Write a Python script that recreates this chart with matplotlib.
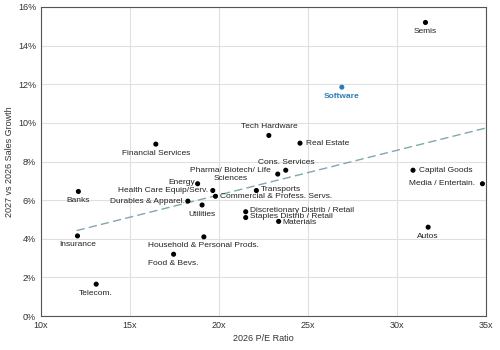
import numpy as np
import matplotlib.pyplot as plt
from matplotlib.ticker import FuncFormatter

plt.rcParams['font.family'] = ['Liberation Sans', 'DejaVu Sans']

sectors = ['Semis', 'Software', 'Tech Hardware', 'Real Estate', 'Cons. Services',
           'Pharma/ Biotech/ Life\nSciences', 'Financial Services', 'Energy',
           'Health Care Equip/Serv.', 'Commercial & Profess. Servs.', 'Durables & Apparel.',
           'Utilities', 'Transports', 'Discretionary Distrib / Retail',
           'Staples Distrib / Retail', 'Materials', 'Banks', 'Insurance',
           'Household & Personal Prods.', 'Food & Bevs.', 'Telecom.', 'Capital Goods',
           'Media / Entertain.', 'Autos']
pe_2026 = [31.6, 26.9, 22.8, 24.55, 23.75, 23.3, 16.45, 18.8, 19.65, 19.8, 18.25,
           19.05, 22.1, 21.5, 21.5, 23.35, 12.1, 12.05, 19.15, 17.45, 13.1, 30.9, 34.8, 31.75]
growth = [15.2, 11.85, 9.35, 8.95, 7.55, 7.35, 8.9, 6.85, 6.5, 6.2, 5.95,
          5.75, 6.5, 5.4, 5.1, 4.9, 6.45, 4.15, 4.1, 3.2, 1.65, 7.55, 6.85, 4.6]

# label placement: (dx, dy) in points, ha, va
placement = {
    'Semis': (0, -4, 'center', 'top'),
    'Software': (0, -4, 'center', 'top'),
    'Tech Hardware': (0, 4, 'center', 'bottom'),
    'Real Estate': (4, 0, 'left', 'center'),
    'Cons. Services': (0, 3, 'center', 'bottom'),
    'Pharma/ Biotech/ Life\nSciences': (-5, 0, 'right', 'center'),
    'Financial Services': (0, -4, 'center', 'top'),
    'Energy': (-2, 1, 'right', 'center'),
    'Health Care Equip/Serv.': (-3, 0, 'right', 'center'),
    'Commercial & Profess. Servs.': (3, 0, 'left', 'center'),
    'Durables & Apparel.': (-2, 0, 'right', 'center'),
    'Utilities': (0, -4, 'center', 'top'),
    'Transports': (3, 1, 'left', 'center'),
    'Discretionary Distrib / Retail': (3, 1, 'left', 'center'),
    'Staples Distrib / Retail': (3, 0.5, 'left', 'center'),
    'Materials': (3, -0.5, 'left', 'center'),
    'Banks': (0, -4, 'center', 'top'),
    'Insurance': (0, -4, 'center', 'top'),
    'Household & Personal Prods.': (0, -4, 'center', 'top'),
    'Food & Bevs.': (0, -4, 'center', 'top'),
    'Telecom.': (0, -4, 'center', 'top'),
    'Capital Goods': (4, 0, 'left', 'center'),
    'Media / Entertain.': (-5, 0, 'right', 'center'),
    'Autos': (0, -4, 'center', 'top'),
}

x = np.array(pe_2026)
y = np.array(growth)

fig, ax = plt.subplots(figsize=(5, 3.5), dpi=100)
fig.subplots_adjust(left=0.082, right=0.972, top=0.98, bottom=0.097)

blue = '#2c7bb6'
colors = [blue if s == 'Software' else 'black' for s in sectors]
ax.scatter(x, y, s=7, c=colors, zorder=3)

for s, xi, yi in zip(sectors, x, y):
    dx, dy, ha, va = placement[s]
    is_sw = s == 'Software'
    ax.annotate(s, (xi, yi), xytext=(dx, dy), textcoords='offset points',
                ha=ha, va=va, fontsize=6, multialignment='center',
                color=blue if is_sw else '#222222',
                fontweight='bold' if is_sw else 'normal')

# linear trend
k, b = np.polyfit(x, y, 1)
xt = np.array([12.0, 35.0])
ax.plot(xt, k * xt + b, ls=(0, (6, 3)), color='#7fa8ae', lw=1, zorder=2)

ax.set_xlim(10, 35)
ax.set_ylim(0, 16)
ax.set_xticks(np.arange(10, 36, 5))
ax.set_yticks(np.arange(0, 17, 2))
ax.xaxis.set_major_formatter(FuncFormatter(lambda v, p: f'{v:.0f}x'))
ax.yaxis.set_major_formatter(FuncFormatter(lambda v, p: f'{v:.0f}%'))
ax.tick_params(labelsize=6.5, length=0, colors='#333333')
ax.grid(color='#e0e0e0', lw=0.8)
ax.set_axisbelow(True)
for sp in ax.spines.values():
    sp.set_color('#555555')
    sp.set_linewidth(0.8)

ax.set_xlabel('2026 P/E Ratio', fontsize=6.5, color='#333333', labelpad=3)
ax.set_ylabel('2027 vs 2026 Sales Growth', fontsize=6.5, color='#333333', labelpad=3)

plt.savefig('out.png')
